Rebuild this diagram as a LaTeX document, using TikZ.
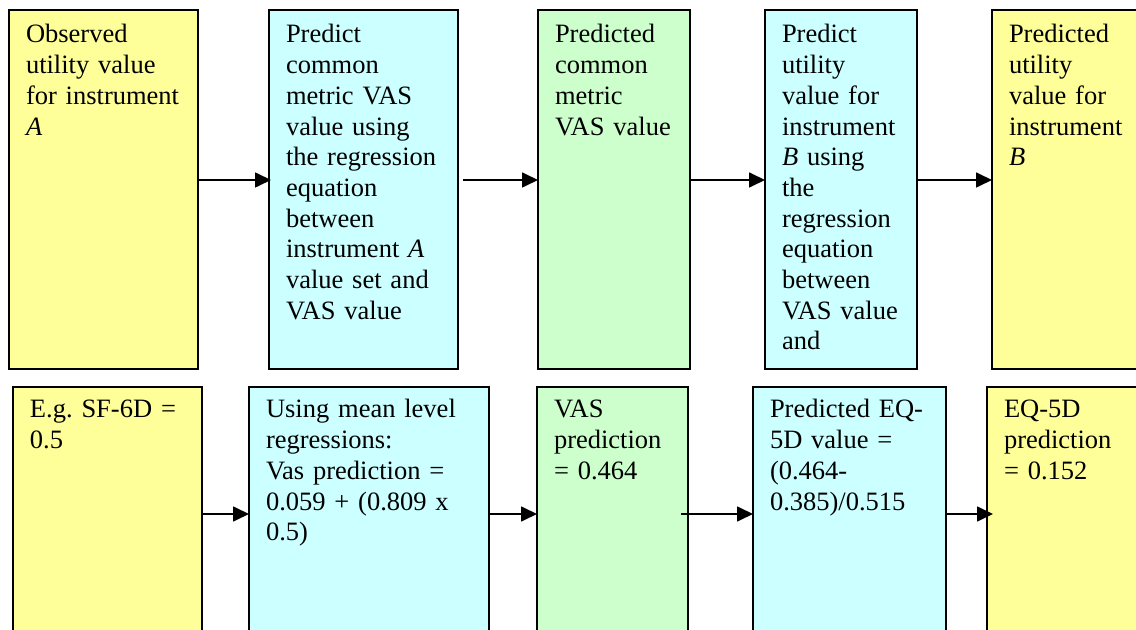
\documentclass[tikz,border=0pt]{standalone}
\usepackage{fontspec}
\setmainfont{Liberation Serif}
\usetikzlibrary{arrows.meta}

\definecolor{utilfill}{HTML}{FFFF99}
\definecolor{regfill}{HTML}{CCFFFF}
\definecolor{vasfill}{HTML}{CCFFCC}

\frenchspacing

\begin{document}
\begin{tikzpicture}[x=0.5pt,y=-0.5pt]
\tikzstyle{every node}+=[font=\fontsize{13.25}{15.35}\selectfont]
\tikzstyle{stage}=[draw=black, line width=1pt, anchor=north west, align=left, inner xsep=8.5pt, inner ysep=0pt, outer sep=0pt]
\tikzstyle{toprow}=[stage, text height=16.5pt, text depth=163pt]
\tikzstyle{lowrow}=[stage, text height=15.5pt, text depth=150pt]
\tikzstyle{flow}=[line width=0.85pt, -{Triangle[length=8pt,width=7.5pt]}]

\clip (0,0) rectangle (1136,630);
\fill [white] (0,0) rectangle (1136,630);

% heights of the two rows of arrows
\coordinate (topline) at (0,180);
\coordinate (lowline) at (0,514);

% method
\node [toprow, fill=utilfill, text width=77.5pt] (obsA) at (9,10) {Observed\\utility value\\for instrument\\\textit{A}};
\node [toprow, fill=regfill, text width=77.5pt] (predVAS) at (269,10) {Predict\\common\\metric VAS\\value using\\the regression\\equation\\between\\instrument \textit{A}\\value set and\\VAS value};
\node [toprow, fill=vasfill, text width=59pt] (VAS) at (538,10) {Predicted\\common\\metric\\VAS value};
\node [toprow, fill=regfill, text width=59pt] (predB) at (765,10) {Predict\\utility\\value for\\instrument\\\textit{B} using\\the\\regression\\equation\\between\\VAS value\\and};
\node [toprow, fill=utilfill, text width=83pt] (utilB) at (992,10) {Predicted\\utility\\value for\\instrument\\\textit{B}};

\draw [flow, shorten >=-1pt] (obsA.east |- topline) -- (predVAS.west |- topline);
\draw [flow, shorten <=2.5pt] (predVAS.east |- topline) -- (VAS.west |- topline);
\draw [flow] (VAS.east |- topline) -- (predB.west |- topline);
\draw [flow] (predB.east |- topline) -- (utilB.west |- topline);

% worked example
\node [lowrow, fill=utilfill, text width=77.5pt] (exSF) at (13,387) {E.g.\ SF-6D =\\0.5};
\node [lowrow, fill=regfill, text width=103pt] (exReg) at (249,387) {Using mean level\\regressions:\\Vas prediction =\\0.059 + (0.809 x\\0.5)};
\node [lowrow, fill=vasfill, text width=58.5pt] (exVAS) at (537,387) {VAS\\prediction\\= 0.464};
\node [lowrow, fill=regfill, text width=79.5pt] (exEQ) at (753,387) {Predicted EQ-\\5D value =\\(0.464-\\0.385)/0.515};
\node [lowrow, fill=utilfill, text width=83pt] (exRes) at (987,387) {EQ-5D\\prediction\\= 0.152};

\draw [flow] (exSF.east |- lowline) -- (exReg.west |- lowline);
\draw [flow] (exReg.east |- lowline) -- (exVAS.west |- lowline);
\draw [flow, shorten <=-3.5pt] (exVAS.east |- lowline) -- (exEQ.west |- lowline);
\draw [flow, shorten >=-3pt] (exEQ.east |- lowline) -- (exRes.west |- lowline);
\end{tikzpicture}
\end{document}
